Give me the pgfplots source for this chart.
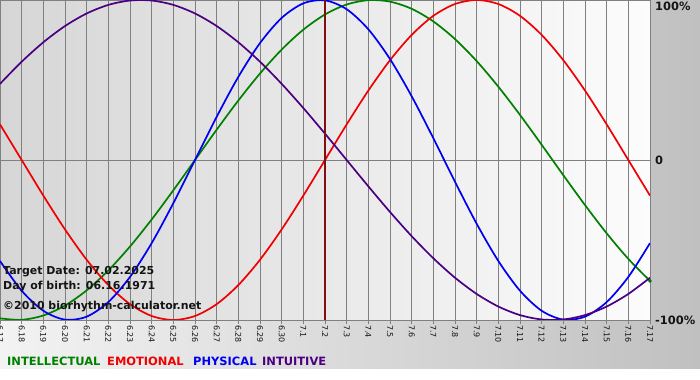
\documentclass[border=0pt]{standalone}
\usepackage{fontspec}
\setmainfont{DejaVu Sans}
\usepackage{pgfplots}
\usepackage{pgfplotstable}
\pgfplotsset{compat=1.18}
\definecolor{bgL}{RGB}{243,243,243}
\definecolor{bgR}{RGB}{192,192,192}
\definecolor{plotL}{RGB}{214,214,214}
\definecolor{plotR}{RGB}{252,252,252}
\definecolor{gridc}{RGB}{128,128,128}
\definecolor{cgreen}{RGB}{0,128,0}
\definecolor{cred}{RGB}{240,0,0}
\definecolor{cblue}{RGB}{0,0,240}
\definecolor{cpurple}{RGB}{75,0,130}
\definecolor{ctarget}{RGB}{128,16,16}
\definecolor{ctext}{RGB}{20,20,20}
\pgfplotstableread{
d intel emo phys intu
0 -98.98 22.25 -63.11 47.59
1 -99.89 0.00 -81.70 61.42
2 -97.18 -22.25 -94.23 73.57
3 -90.96 -43.39 -99.77 83.72
4 -81.46 -62.35 -97.91 91.58
5 -69.01 -78.18 -88.80 96.94
6 -54.06 -90.10 -73.08 99.66
7 -37.17 -97.49 -51.96 99.66
8 -18.93 -100.00 -26.98 96.94
9 0.00 -97.49 0.00 91.58
10 18.93 -90.10 26.98 83.72
11 37.17 -78.18 51.96 73.57
12 54.06 -62.35 73.08 61.42
13 69.01 -43.39 88.80 47.59
14 81.46 -22.25 97.91 32.47
15 90.96 0.00 99.77 16.46
16 97.18 22.25 94.23 0.00
17 99.89 43.39 81.70 -16.46
18 98.98 62.35 63.11 -32.47
19 94.50 78.18 39.84 -47.59
20 86.60 90.10 13.62 -61.42
21 75.57 97.49 -13.62 -73.57
22 61.82 100.00 -39.84 -83.72
23 45.82 97.49 -63.11 -91.58
24 28.17 90.10 -81.70 -96.94
25 9.51 78.18 -94.23 -99.66
26 -9.51 62.35 -99.77 -99.66
27 -28.17 43.39 -97.91 -96.94
28 -45.82 22.25 -88.80 -91.58
29 -61.82 0.00 -73.08 -83.72
30 -75.57 -22.25 -51.96 -73.57
}\bio
\begin{document}
\begin{tikzpicture}
\useasboundingbox (0,0) rectangle (700bp,380bp);
\shade[left color=bgL, right color=bgR] (0,11bp) rectangle (700bp,380bp);
\fill[white] (0,0) rectangle (700bp,11bp);
\begin{axis}[
  at={(0,60bp)}, anchor=south west,
  scale only axis, width=650bp, height=320bp,
  xmin=0, xmax=30, ymin=-100, ymax=100,
  axis background/.style={shade, left color=plotL, right color=plotR},
  axis line style={gridc, line width=0.9bp},
  xtick={0,...,30},
  xticklabels={6.17,6.18,6.19,6.20,6.21,6.22,6.23,6.24,6.25,6.26,6.27,6.28,6.29,6.30,7.1,7.2,7.3,7.4,7.5,7.6,7.7,7.8,7.9,7.10,7.11,7.12,7.13,7.14,7.15,7.16,7.17},
  xticklabel style={rotate=-90, anchor=west, inner sep=1bp, font=\fontsize{8}{9}\selectfont, text=ctext},
  tick align=outside,
  major tick length=4bp,
  xtick style={gridc, line width=0.9bp},
  ytick style={draw=none},
  xmajorgrids, ymajorgrids,
  major grid style={gridc, line width=0.9bp},
  ytick={-100,0},
  yticklabels={-100\%,0},
  yticklabel pos=right,
  yticklabel style={anchor=west, inner sep=1bp, font=\bfseries\fontsize{11.5}{12}\selectfont, text=ctext},
  extra y ticks={100},
  extra y tick labels={100\%},
  extra y tick style={yticklabel style={anchor=north west, yshift=-1bp}},
]
\addplot[cgreen, line width=1.7bp, smooth] table[x=d, y=intel] {\bio};
\addplot[cred, line width=1.7bp, smooth] table[x=d, y=emo] {\bio};
\addplot[cblue, line width=1.7bp, smooth] table[x=d, y=phys] {\bio};
\addplot[cpurple, line width=1.7bp, smooth] table[x=d, y=intu] {\bio};
\addplot[cgreen, only marks, mark=*, mark size=1.6bp, mark indices={31}] table[x=d, y=intel] {\bio};
\addplot[ctarget, line width=2bp] coordinates {(15,-100) (15,100)};
\end{axis}
\begin{scope}[every node/.style={anchor=west, inner sep=0pt, text=ctext, font=\bfseries\fontsize{11}{12}\selectfont}]
\node at (3bp,108bp) {Target Date: 07.02.2025};
\node at (3bp,93.5bp) {Day of birth: 06.16.1971};
\node at (3bp,73bp) {©2010 biorhythm-calculator.net};
\end{scope}
\begin{scope}[every node/.style={anchor=west, inner sep=0pt, font=\bfseries\fontsize{11.5}{12}\selectfont}]
\node[text=cgreen] at (7bp,19bp) {INTELLECTUAL};
\node[text=cred] at (107bp,19bp) {EMOTIONAL};
\node[text=cblue] at (193bp,19bp) {PHYSICAL};
\node[text=cpurple] at (262bp,19bp) {INTUITIVE};
\end{scope}
\end{tikzpicture}
\end{document}
